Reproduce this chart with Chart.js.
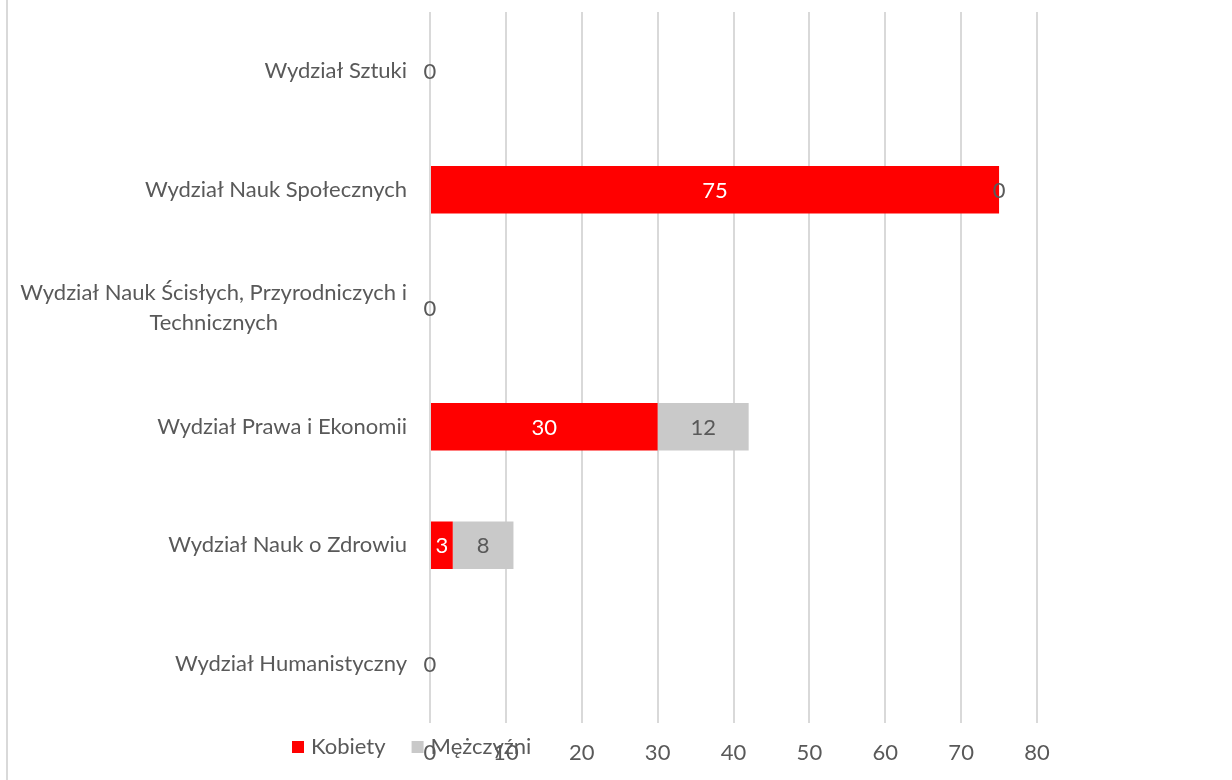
<!DOCTYPE html>
<html><head><meta charset="utf-8">
<script src="https://cdn.jsdelivr.net/npm/chart.js@4"></script>
<style>html,body{margin:0;padding:0;background:#fff}#wrap{width:1232px;height:780px;position:relative}canvas{display:block}</style>
</head><body><div id="wrap"><canvas id="c" width="1232" height="780"></canvas></div>
<script>
const categories = [
  ["Wydział Sztuki"],
  ["Wydział Nauk Społecznych"],
  ["Wydział Nauk Ścisłych, Przyrodniczych i", "Technicznych"],
  ["Wydział Prawa i Ekonomii"],
  ["Wydział Nauk o Zdrowiu"],
  ["Wydział Humanistyczny"]
];
const seriesNames = ["Kobiety", "Mężczyźni"];
const kobiety = [0, 75, 0, 30, 3, 0];
const mezczyzni = [0, 0, 0, 12, 8, 0];
const xTicks = [0, 10, 20, 30, 40, 50, 60, 70, 80];

const FONT = '"Lato", "Open Sans", sans-serif';
const FSIZE = 22;
const TEXT = '#595959';
const colors = ['#ff0000', '#c9c9c9'];
const labelColors = ['#ffffff', '#595959'];

const custom = {
  id: 'custom',
  beforeDraw(chart) {
    const ctx = chart.ctx;
    ctx.save();
    ctx.fillStyle = '#ffffff';
    ctx.fillRect(0, 0, chart.width, chart.height);
    ctx.fillStyle = '#d9d9d9';
    ctx.fillRect(6, 0, 2, chart.height);
    ctx.restore();
  },
  afterDatasetsDraw(chart) {
    const ctx = chart.ctx;
    ctx.save();
    ctx.font = FSIZE + 'px ' + FONT;
    ctx.textAlign = 'center';
    ctx.textBaseline = 'middle';
    chart.data.datasets.forEach((ds, di) => {
      const meta = chart.getDatasetMeta(di);
      meta.data.forEach((bar, i) => {
        const v = ds.data[i];
        if (di === 0 && v === 0) return;
        const cx = (bar.x + bar.base) / 2;
        ctx.fillStyle = labelColors[di];
        ctx.fillText(String(v), cx, bar.y + 1);
      });
    });
    ctx.restore();
  },
  afterDraw(chart) {
    const ctx = chart.ctx;
    const y = chart.scales.y;
    const area = chart.chartArea;
    ctx.save();
    ctx.font = FSIZE + 'px ' + FONT;
    ctx.fillStyle = TEXT;
    ctx.textAlign = 'center';
    ctx.textBaseline = 'middle';
    const right = area.left - 23;
    categories.forEach((lines, i) => {
      const cy = y.getPixelForValue(i);
      const w = Math.max(...lines.map(l => ctx.measureText(l).width));
      const cx = right - w / 2;
      const lh = 30;
      const start = cy - (lines.length - 1) * lh / 2;
      lines.forEach((l, k) => ctx.fillText(l, cx, start + k * lh));
    });
    // legend
    let lx = area.left - 138;
    const ly = area.bottom + 24;
    ctx.textAlign = 'left';
    seriesNames.forEach((name, i) => {
      ctx.fillStyle = colors[i];
      ctx.fillRect(lx, ly - 6, 12, 12);
      ctx.fillStyle = TEXT;
      ctx.fillText(name, lx + 19, ly);
      lx += 19 + ctx.measureText(name).width + 26;
    });
    ctx.restore();
  }
};

new Chart(document.getElementById('c'), {
  type: 'bar',
  data: {
    labels: categories,
    datasets: [
      { label: seriesNames[0], data: kobiety, backgroundColor: colors[0], borderWidth: 0, barPercentage: 0.4, categoryPercentage: 1 },
      { label: seriesNames[1], data: mezczyzni, backgroundColor: colors[1], borderWidth: 0, barPercentage: 0.4, categoryPercentage: 1 }
    ]
  },
  options: {
    indexAxis: 'y',
    responsive: false,
    animation: false,
    devicePixelRatio: 1,
    layout: { padding: { left: 430, right: 195, top: 12, bottom: 0 } },
    plugins: { legend: { display: false }, tooltip: { enabled: false } },
    scales: {
      x: {
        stacked: true,
        min: 0, max: 80,
        afterBuildTicks(s) { s.ticks = xTicks.map(v => ({ value: v })); },
        afterFit(s) { s.height = 57; },
        grid: { color: '#d9d9d9', lineWidth: 2, drawTicks: false },
        border: { display: false },
        ticks: { color: TEXT, font: { family: FONT, size: FSIZE }, padding: 17 }
      },
      y: {
        stacked: true,
        display: false
      }
    }
  },
  plugins: [custom]
});
</script>
</body></html>
